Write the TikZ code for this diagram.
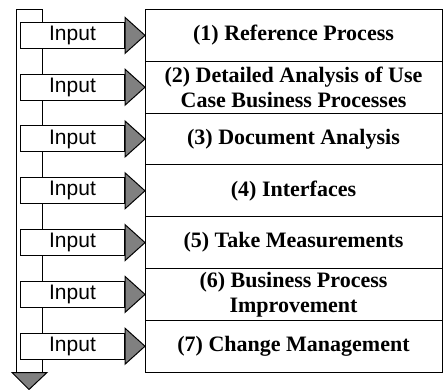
\documentclass[tikz,border=0pt]{standalone}
\usepackage{fontspec}
\setmainfont{Liberation Serif}
\newfontfamily\inputfont{Liberation Sans}
\usetikzlibrary{positioning}

\begin{document}
\begin{tikzpicture}
  [x = 1pt,
    y = -1pt,
    StepNode/.style={rectangle, draw=black, line width=1pt, outer sep=0pt, inner sep=0pt, minimum width=297pt, minimum height=51.8pt, align=center, font=\fontsize{22}{25}\selectfont\bfseries},
    InputNode/.style={rectangle, draw=black, fill=white, line width=1pt, inner sep=0pt, minimum width=104pt, minimum height=26pt, font=\fontsize{21}{24}\selectfont\inputfont},
    HeadArrow/.style={draw=black, fill=black!50, line width=1pt}]
    \useasboundingbox (0,0) rectangle (444,390);
    % flow bar
    \node [rectangle, draw=black, fill=white, line width=1pt, inner sep=0pt, minimum width=26pt, minimum height=362pt] (bar) at (29,191) {};
    \filldraw [HeadArrow] ([xshift=-17pt]bar.south) -- ([xshift=18pt]bar.south) -- ([yshift=-17pt]bar.south) -- cycle;
    % steps
    \node [StepNode] (s1) at (293.5,35.4) {(1) Reference Process};
    \node [StepNode, below=0pt of s1] (s2) {(2) Detailed Analysis of Use\\Case Business Processes};
    \node [StepNode, below=0pt of s2] (s3) {(3) Document Analysis};
    \node [StepNode, below=0pt of s3] (s4) {(4) Interfaces};
    \node [StepNode, below=0pt of s4] (s5) {(5) Take Measurements};
    \node [StepNode, below=0pt of s5] (s6) {(6) Business Process\\Improvement};
    \node [StepNode, below=0pt of s6] (s7) {(7) Change Management};
    % inputs
    \node [InputNode, left=20pt of s1] (in1) {Input};
    \node [InputNode, left=20pt of s2] (in2) {Input};
    \node [InputNode, left=20pt of s3] (in3) {Input};
    \node [InputNode, left=20pt of s4] (in4) {Input};
    \node [InputNode, left=20pt of s5] (in5) {Input};
    \node [InputNode, left=20pt of s6] (in6) {Input};
    \node [InputNode, left=20pt of s7] (in7) {Input};
    \filldraw [HeadArrow] ([yshift=18pt]in1.east) -- (s1.west) -- ([yshift=-18pt]in1.east) -- cycle;
    \filldraw [HeadArrow] ([yshift=18pt]in2.east) -- (s2.west) -- ([yshift=-18pt]in2.east) -- cycle;
    \filldraw [HeadArrow] ([yshift=18pt]in3.east) -- (s3.west) -- ([yshift=-18pt]in3.east) -- cycle;
    \filldraw [HeadArrow] ([yshift=18pt]in4.east) -- (s4.west) -- ([yshift=-18pt]in4.east) -- cycle;
    \filldraw [HeadArrow] ([yshift=18pt]in5.east) -- (s5.west) -- ([yshift=-18pt]in5.east) -- cycle;
    \filldraw [HeadArrow] ([yshift=18pt]in6.east) -- (s6.west) -- ([yshift=-18pt]in6.east) -- cycle;
    \filldraw [HeadArrow] ([yshift=18pt]in7.east) -- (s7.west) -- ([yshift=-18pt]in7.east) -- cycle;
\end{tikzpicture}
\end{document}
